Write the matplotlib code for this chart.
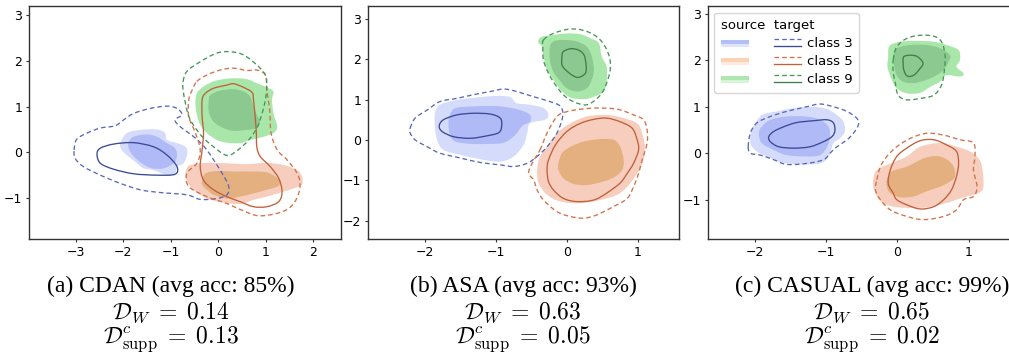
import numpy as np
import matplotlib
matplotlib.use("Agg")
import matplotlib.pyplot as plt
from matplotlib.path import Path
from matplotlib.patches import PathPatch, Rectangle
from matplotlib.lines import Line2D
from matplotlib.legend_handler import HandlerBase

# ---------------------------------------------------------------- data
# contour outlines (x, y), in data units
# ---- (a) CDAN
CDAN_SRC3_OUT = [(-2.06, 0.20), (-1.92, 0.42), (-1.64, 0.49), (-1.29, 0.50), (-1.12, 0.42), (-1.08, 0.27),
                 (-0.87, 0.20), (-0.69, 0.12), (-0.65, -0.02), (-0.73, -0.24), (-0.87, -0.31), (-0.91, -0.46),
                 (-1.08, -0.50), (-1.36, -0.39), (-1.57, -0.35), (-1.71, -0.24), (-1.89, -0.09), (-2.03, 0.05)]
CDAN_SRC3_IN = [(-1.89, 0.20), (-1.78, 0.34), (-1.50, 0.39), (-1.29, 0.34), (-1.08, 0.20), (-0.91, 0.09),
                (-0.87, -0.09), (-0.94, -0.24), (-1.15, -0.35), (-1.40, -0.35), (-1.61, -0.24), (-1.78, -0.09),
                (-1.87, 0.05)]
CDAN_TGT3_OUT = [(-3.03, 0.05), (-2.98, 0.28), (-2.76, 0.42), (-2.48, 0.53), (-2.17, 0.58), (-1.99, 0.71),
                 (-1.78, 0.85), (-1.43, 0.96), (-1.08, 1.01), (-0.87, 0.96), (-0.76, 0.82), (-0.91, 0.71),
                 (-0.80, 0.56), (-0.48, 0.31), (-0.24, 0.05), (0.08, -0.46), (0.22, -0.75), (0.18, -0.93),
                 (-0.03, -1.01), (-0.38, -1.03), (-0.66, -0.93), (-1.22, -0.88), (-1.64, -0.82), (-2.06, -0.68),
                 (-2.48, -0.50), (-2.84, -0.31), (-3.01, -0.13)]
CDAN_TGT3_IN = [(-2.55, -0.04), (-2.48, 0.09), (-2.20, 0.18), (-1.78, 0.21), (-1.36, 0.12), (-1.08, -0.06),
                (-0.87, -0.31), (-0.91, -0.48), (-1.29, -0.50), (-1.78, -0.47), (-2.20, -0.37), (-2.48, -0.24)]
CDAN_SRC5_OUT = [(-0.66, -0.35), (-0.59, -0.28), (-0.24, -0.23), (0.18, -0.24), (0.60, -0.26), (1.02, -0.23),
                 (1.38, -0.28), (1.66, -0.39), (1.76, -0.53), (1.76, -0.71), (1.59, -0.79), (1.31, -0.88),
                 (1.02, -0.97), (0.74, -1.04), (0.46, -1.13), (0.11, -1.10), (-0.24, -1.01), (-0.52, -0.82),
                 (-0.66, -0.64), (-0.69, -0.46)]
CDAN_SRC5_IN = [(-0.34, -0.61), (-0.27, -0.46), (-0.03, -0.41), (0.32, -0.42), (0.74, -0.42), (1.02, -0.44),
                (1.20, -0.53), (1.31, -0.64), (1.24, -0.75), (1.02, -0.82), (0.74, -0.90), (0.46, -0.97),
                (0.18, -1.01), (-0.10, -0.93), (-0.24, -0.82), (-0.34, -0.71)]
CDAN_TGT5_OUT = [(-0.45, 1.55), (-0.24, 1.69), (0.04, 1.80), (0.32, 1.84), (0.60, 1.79), (0.81, 1.80),
                 (0.99, 1.69), (1.02, 1.36), (1.08, 0.93), (1.11, 0.42), (1.24, 0.05), (1.45, -0.17),
                 (1.69, -0.53), (1.69, -0.90), (1.45, -1.25), (0.88, -1.39), (0.46, -1.25), (0.18, -1.12),
                 (-0.24, -0.97), (-0.62, -0.75), (-0.66, -0.46), (-0.45, -0.24), (-0.38, 0.05), (-0.48, 0.42),
                 (-0.62, 0.78), (-0.62, 1.15), (-0.55, 1.36)]
CDAN_TGT5_IN = [(-0.34, 1.15), (-0.27, 1.29), (-0.10, 1.40), (0.18, 1.47), (0.32, 1.50), (0.53, 1.42),
                (0.71, 1.31), (0.74, 1.15), (0.78, 0.71), (0.80, 0.42), (0.81, 0.12), (0.88, -0.09),
                (1.09, -0.31), (1.27, -0.57), (1.34, -0.86), (1.27, -1.08), (1.02, -1.19), (0.74, -1.19),
                (0.46, -1.08), (0.18, -0.97), (-0.10, -0.82), (-0.31, -0.61), (-0.38, -0.31), (-0.34, 0.05),
                (-0.31, 0.42), (-0.34, 0.78)]
CDAN_SRC9_OUT = [(-0.48, 1.07), (-0.45, 1.29), (-0.31, 1.44), (-0.10, 1.55), (0.11, 1.60), (0.32, 1.62),
                 (0.60, 1.60), (0.81, 1.51), (1.02, 1.42), (1.16, 1.33), (1.13, 1.15), (1.16, 0.85),
                 (1.24, 0.56), (1.16, 0.42), (0.95, 0.34), (0.67, 0.27), (0.46, 0.20), (0.18, 0.21),
                 (-0.03, 0.27), (-0.24, 0.42), (-0.38, 0.60), (-0.45, 0.82)]
CDAN_SRC9_IN = [(-0.20, 1.15), (-0.17, 1.25), (0.04, 1.35), (0.32, 1.38), (0.53, 1.33), (0.67, 1.22),
                (0.74, 1.00), (0.81, 0.82), (0.88, 0.67), (0.81, 0.53), (0.60, 0.49), (0.32, 0.47),
                (0.11, 0.53), (-0.10, 0.67), (-0.20, 0.89)]
CDAN_TGT9_OUT = [(-0.74, 1.55), (-0.66, 1.77), (-0.38, 1.98), (-0.03, 2.17), (0.25, 2.20), (0.53, 2.13),
                 (0.81, 1.91), (0.99, 1.69), (1.02, 1.44), (0.99, 1.15), (0.92, 0.85), (0.81, 0.53),
                 (0.64, 0.27), (0.46, 0.09), (0.25, -0.06), (0.11, -0.04), (-0.10, 0.12), (-0.31, 0.31),
                 (-0.48, 0.53), (-0.62, 0.78), (-0.69, 1.07), (-0.74, 1.36)]
CDAN_TGT9_IN = []

# ---- (b) ASA
ASA_SRC3_OUT = [(-1.86, 0.66), (-1.79, 0.87), (-1.55, 0.99), (-1.22, 1.06), (-0.99, 1.09), (-0.80, 1.06),
                (-0.71, 0.91), (-0.52, 0.87), (-0.33, 0.79), (-0.26, 0.62), (-0.31, 0.50), (-0.52, 0.41),
                (-0.56, 0.17), (-0.61, -0.12), (-0.75, -0.41), (-0.94, -0.54), (-1.22, -0.48), (-1.50, -0.37),
                (-1.74, -0.25), (-1.83, 0.00), (-1.86, 0.33)]
ASA_SRC3_IN = [(-1.65, 0.62), (-1.57, 0.79), (-1.32, 0.83), (-1.03, 0.84), (-0.85, 0.81), (-0.66, 0.74),
               (-0.52, 0.62), (-0.52, 0.45), (-0.63, 0.35), (-0.73, 0.12), (-0.89, -0.07), (-1.13, -0.10),
               (-1.36, -0.10), (-1.57, -0.04), (-1.65, 0.12), (-1.67, 0.41)]
ASA_TGT3_OUT = [(-2.21, 0.29), (-2.14, 0.54), (-1.97, 0.74), (-1.79, 0.95), (-1.55, 1.03), (-1.32, 1.12),
                (-1.08, 1.20), (-0.89, 1.26), (-0.71, 1.20), (-0.47, 1.07), (-0.24, 0.95), (-0.09, 0.83),
                (-0.06, 0.58), (-0.14, 0.17), (-0.28, -0.17), (-0.42, -0.41), (-0.56, -0.58), (-0.75, -0.66),
                (-0.94, -0.62), (-1.22, -0.56), (-1.50, -0.45), (-1.79, -0.33), (-1.97, -0.17), (-2.14, 0.00),
                (-2.21, 0.17)]
ASA_TGT3_IN = [(-1.80, 0.35), (-1.74, 0.50), (-1.55, 0.62), (-1.32, 0.66), (-1.08, 0.64), (-0.94, 0.54),
               (-0.92, 0.35), (-0.96, 0.18), (-1.13, 0.10), (-1.36, 0.04), (-1.60, 0.08), (-1.76, 0.21)]
ASA_SRC5_OUT = [(-0.42, -0.74), (-0.38, -0.41), (-0.28, -0.17), (-0.14, 0.17), (0.05, 0.41), (0.28, 0.58),
                (0.56, 0.62), (0.80, 0.54), (0.99, 0.41), (1.06, 0.17), (1.10, -0.17), (1.08, -0.50),
                (0.99, -0.83), (0.85, -1.16), (0.71, -1.36), (0.47, -1.49), (0.19, -1.57), (-0.09, -1.53),
                (-0.28, -1.36), (-0.40, -1.07)]
ASA_SRC5_IN = [(-0.12, -0.58), (-0.07, -0.33), (0.05, -0.17), (0.24, -0.04), (0.47, 0.02), (0.66, 0.00),
               (0.75, -0.17), (0.80, -0.50), (0.78, -0.74), (0.68, -0.91), (0.52, -1.03), (0.28, -1.12),
               (0.09, -1.09), (-0.05, -0.95), (-0.12, -0.74)]
ASA_TGT5_OUT = [(-0.38, -0.25), (-0.28, 0.17), (-0.14, 0.58), (0.00, 0.70), (0.19, 0.76), (0.42, 0.79),
                (0.71, 0.76), (0.94, 0.62), (1.08, 0.50), (1.13, 0.25), (1.13, -0.08), (1.06, -0.50),
                (1.01, -0.83), (0.94, -1.16), (0.85, -1.45), (0.66, -1.65), (0.42, -1.86), (0.24, -1.94),
                (0.05, -1.90), (-0.14, -1.78), (-0.33, -1.49), (-0.42, -1.24), (-0.47, -0.99), (-0.54, -0.83),
                (-0.49, -0.58)]
ASA_TGT5_IN = [(-0.28, -0.74), (-0.26, -0.50), (-0.16, -0.12), (0.00, 0.21), (0.19, 0.41), (0.38, 0.51),
               (0.56, 0.54), (0.75, 0.45), (0.92, 0.29), (0.99, 0.00), (1.01, -0.25), (0.94, -0.58),
               (0.85, -0.83), (0.75, -1.07), (0.56, -1.32), (0.38, -1.49), (0.14, -1.53), (-0.05, -1.45),
               (-0.19, -1.24), (-0.26, -1.03)]
ASA_SRC9_OUT = [(-0.40, 2.48), (-0.35, 2.56), (-0.19, 2.60), (0.00, 2.64), (0.19, 2.62), (0.33, 2.52),
                (0.45, 2.40), (0.49, 2.07), (0.56, 1.82), (0.56, 1.45), (0.52, 1.20), (0.38, 1.07),
                (0.24, 1.01), (0.05, 1.05), (-0.09, 1.24), (-0.19, 1.49), (-0.28, 1.74), (-0.33, 2.07),
                (-0.35, 2.31), (-0.40, 2.40)]
ASA_SRC9_IN = [(-0.24, 2.31), (-0.19, 2.44), (-0.05, 2.48), (0.14, 2.44), (0.28, 2.31), (0.35, 2.07),
               (0.38, 1.74), (0.35, 1.49), (0.28, 1.28), (0.14, 1.20), (0.00, 1.28), (-0.09, 1.45),
               (-0.19, 1.69), (-0.24, 1.98)]
ASA_TGT9_OUT = [(-0.33, 2.48), (-0.19, 2.64), (0.05, 2.75), (0.28, 2.69), (0.47, 2.48), (0.59, 2.11),
                (0.61, 1.74), (0.54, 1.32), (0.45, 1.07), (0.28, 0.87), (0.09, 0.95), (-0.05, 1.12),
                (-0.16, 1.36), (-0.26, 1.65), (-0.33, 1.98), (-0.34, 2.31)]
ASA_TGT9_IN = [(-0.07, 2.07), (-0.05, 2.19), (0.05, 2.26), (0.16, 2.23), (0.24, 2.11), (0.27, 1.86),
               (0.26, 1.65), (0.16, 1.55), (0.07, 1.61), (-0.02, 1.74), (-0.07, 1.86)]

# ---- (c) CASUAL
CAS_SRC3_OUT = [(-2.07, 0.36), (-2.03, 0.57), (-1.91, 0.82), (-1.70, 0.90), (-1.46, 0.97), (-1.18, 1.00),
                (-0.99, 0.95), (-0.85, 0.82), (-0.76, 0.68), (-0.74, 0.47), (-0.81, 0.32), (-0.90, 0.22),
                (-0.97, -0.07), (-1.09, -0.22), (-1.37, -0.24), (-1.65, -0.19), (-1.84, -0.07), (-1.98, 0.04),
                (-2.06, 0.18)]
CAS_SRC3_IN = [(-1.95, 0.43), (-1.91, 0.57), (-1.79, 0.72), (-1.56, 0.79), (-1.28, 0.79), (-1.09, 0.72),
               (-0.97, 0.57), (-0.95, 0.36), (-0.99, 0.14), (-1.09, -0.04), (-1.28, -0.07), (-1.56, -0.04),
               (-1.74, 0.07), (-1.91, 0.22)]
CAS_TGT3_OUT = [(-2.10, 0.14), (-2.07, 0.43), (-1.98, 0.65), (-1.79, 0.79), (-1.56, 0.90), (-1.28, 1.00),
                (-1.09, 1.06), (-0.90, 1.00), (-0.71, 0.90), (-0.57, 0.75), (-0.55, 0.61), (-0.62, 0.43),
                (-0.71, 0.29), (-0.85, 0.14), (-0.95, 0.00), (-1.04, -0.14), (-1.28, -0.22), (-1.56, -0.24),
                (-1.74, -0.14), (-1.93, -0.04), (-2.07, 0.00)]
CAS_TGT3_IN = [(-1.81, 0.36), (-1.74, 0.47), (-1.60, 0.57), (-1.42, 0.66), (-1.18, 0.70), (-0.99, 0.72),
               (-0.90, 0.65), (-0.88, 0.49), (-0.92, 0.36), (-1.04, 0.25), (-1.23, 0.14), (-1.46, 0.11),
               (-1.67, 0.14), (-1.79, 0.25)]
CAS_SRC5_OUT = [(-0.34, -0.57), (-0.29, -0.36), (-0.10, -0.22), (0.13, -0.07), (0.32, 0.14), (0.60, 0.22),
                (0.83, 0.14), (1.02, 0.04), (1.14, -0.11), (1.19, -0.29), (1.21, -0.72), (1.14, -0.86),
                (0.98, -0.93), (0.83, -1.00), (0.60, -1.11), (0.32, -1.18), (-0.01, -1.16), (-0.20, -1.08),
                (-0.29, -0.93), (-0.34, -0.72)]
CAS_SRC5_IN = [(-0.15, -0.57), (-0.08, -0.39), (0.13, -0.29), (0.37, -0.11), (0.55, -0.06), (0.69, -0.13),
               (0.79, -0.29), (0.81, -0.50), (0.74, -0.61), (0.60, -0.72), (0.41, -0.82), (0.23, -0.93),
               (0.04, -0.95), (-0.10, -0.86), (-0.15, -0.72)]
CAS_TGT5_OUT = [(-0.29, -0.57), (-0.24, -0.29), (-0.15, -0.07), (-0.01, 0.14), (0.18, 0.32), (0.41, 0.43),
                (0.65, 0.39), (0.88, 0.29), (1.07, 0.22), (1.09, -0.07), (1.07, -0.36), (1.12, -0.72),
                (1.07, -0.93), (0.93, -1.00), (0.83, -1.22), (0.65, -1.36), (0.37, -1.43), (0.13, -1.36),
                (-0.10, -1.22), (-0.24, -1.00), (-0.31, -0.79)]
CAS_TGT5_IN = [(-0.13, -0.65), (-0.10, -0.36), (-0.01, -0.07), (0.13, 0.11), (0.32, 0.27), (0.51, 0.29),
               (0.69, 0.18), (0.83, 0.04), (0.86, -0.22), (0.83, -0.50), (0.76, -0.79), (0.65, -1.00),
               (0.51, -1.15), (0.32, -1.20), (0.13, -1.11), (-0.01, -1.00), (-0.06, -0.86)]
CAS_SRC9_OUT = [(-0.13, 2.22), (-0.10, 2.33), (0.04, 2.40), (0.27, 2.42), (0.51, 2.40), (0.69, 2.33),
                (0.86, 2.22), (0.88, 2.01), (0.83, 1.86), (0.93, 1.72), (0.88, 1.65), (0.69, 1.68),
                (0.60, 1.54), (0.46, 1.43), (0.32, 1.30), (0.13, 1.29), (-0.01, 1.40), (-0.08, 1.58),
                (-0.14, 1.86), (-0.13, 2.08)]
CAS_SRC9_IN = [(-0.06, 2.11), (-0.01, 2.26), (0.18, 2.33), (0.41, 2.33), (0.60, 2.26), (0.74, 2.11),
               (0.72, 1.97), (0.65, 1.79), (0.55, 1.68), (0.41, 1.58), (0.23, 1.51), (0.08, 1.54),
               (-0.01, 1.68), (-0.05, 1.90)]
CAS_TGT9_OUT = [(-0.06, 2.01), (-0.01, 2.29), (0.13, 2.47), (0.32, 2.54), (0.51, 2.52), (0.62, 2.40),
                (0.67, 2.11), (0.66, 1.79), (0.62, 1.47), (0.51, 1.25), (0.32, 1.18), (0.13, 1.15),
                (0.01, 1.25), (-0.03, 1.51), (-0.06, 1.76)]
CAS_TGT9_IN = [(0.08, 1.97), (0.09, 2.08), (0.18, 2.11), (0.28, 2.08), (0.36, 1.94), (0.31, 1.81),
               (0.23, 1.68), (0.14, 1.66), (0.09, 1.79)]

CLASSES = ["class 3", "class 5", "class 9"]
PANEL_TITLES = ["(a) CDAN (avg acc: 85%)", "(b) ASA (avg acc: 93%)", "(c) CASUAL (avg acc: 99%)"]
D_W = ["0.14", "0.63", "0.65"]
D_SUPP = ["0.13", "0.05", "0.02"]
XLIMS = [(-3.98, 2.58), (-2.80, 1.58), (-2.67, 1.72)]
YLIMS = [(-1.89, 3.20), (-2.45, 3.32), (-1.84, 3.17)]
XTICKS = [[-3, -2, -1, 0, 1, 2], [-2, -1, 0, 1], [-2, -1, 0, 1]]
YTICKS = [[-1, 0, 1, 2, 3], [-2, -1, 0, 1, 2, 3], [-1, 0, 1, 2, 3]]

# ---------------------------------------------------------------- styles
FILL_OUT = {"class 3": "#d5dbfa", "class 5": "#f7cebd", "class 9": "#a9e6a9"}
FILL_IN = {"class 3": "#b0baf6", "class 5": "#e4b080", "class 9": "#8bc991"}
DASH_C = {"class 3": "#5868bc", "class 5": "#d0714a", "class 9": "#469656"}
SOLID_C = {"class 3": "#3a4a98", "class 5": "#c0603a", "class 9": "#3b8048"}
LEG_TOP = {"class 3": "#b3bff7", "class 5": "#fdd2b4", "class 9": "#ade6ae"}
LEG_BOT = {"class 3": "#dfe4fc", "class 5": "#feeadf", "class 9": "#d8f4d8"}
DASHES = (0, (3.5, 2.3))

plt.rcParams["mathtext.fontset"] = "cm"


def smooth_path(pts):
    """Closed Catmull-Rom spline through the outline vertices, as cubic Bezier segments."""
    p = np.asarray(pts, float)
    n = len(p)
    verts = [p[0]]
    codes = [Path.MOVETO]
    for i in range(n):
        p0, p1, p2, p3 = p[i - 1], p[i], p[(i + 1) % n], p[(i + 2) % n]
        verts += [p1 + (p2 - p0) / 6.0, p2 - (p3 - p1) / 6.0, p2]
        codes += [Path.CURVE4] * 3
    return Path(verts, codes)


panels = [
    [(CDAN_SRC3_OUT, CDAN_SRC3_IN, CDAN_TGT3_OUT, CDAN_TGT3_IN),
     (CDAN_SRC5_OUT, CDAN_SRC5_IN, CDAN_TGT5_OUT, CDAN_TGT5_IN),
     (CDAN_SRC9_OUT, CDAN_SRC9_IN, CDAN_TGT9_OUT, CDAN_TGT9_IN)],
    [(ASA_SRC3_OUT, ASA_SRC3_IN, ASA_TGT3_OUT, ASA_TGT3_IN),
     (ASA_SRC5_OUT, ASA_SRC5_IN, ASA_TGT5_OUT, ASA_TGT5_IN),
     (ASA_SRC9_OUT, ASA_SRC9_IN, ASA_TGT9_OUT, ASA_TGT9_IN)],
    [(CAS_SRC3_OUT, CAS_SRC3_IN, CAS_TGT3_OUT, CAS_TGT3_IN),
     (CAS_SRC5_OUT, CAS_SRC5_IN, CAS_TGT5_OUT, CAS_TGT5_IN),
     (CAS_SRC9_OUT, CAS_SRC9_IN, CAS_TGT9_OUT, CAS_TGT9_IN)],
]

W, H = 1009, 356
fig = plt.figure(figsize=(W / 100, H / 100), dpi=100)
ax_boxes = [(29, 312), (368.3, 310.7), (707.7, 312)]
ax_top, ax_bot = 6, 238.7

axes = []
for k, (x0, w) in enumerate(ax_boxes):
    ax = fig.add_axes([x0 / W, 1 - ax_bot / H, w / W, (ax_bot - ax_top) / H])
    axes.append(ax)
    for ci, cls in enumerate(CLASSES):
        s_out, s_in, t_out, t_in = panels[k][ci]
        ax.add_patch(PathPatch(smooth_path(s_out), facecolor=FILL_OUT[cls], edgecolor="none", zorder=1))
        ax.add_patch(PathPatch(smooth_path(s_in), facecolor=FILL_IN[cls], edgecolor="none", zorder=1.5))
    for ci, cls in enumerate(CLASSES):
        s_out, s_in, t_out, t_in = panels[k][ci]
        if t_out:
            ax.add_patch(PathPatch(smooth_path(t_out), fill=False, edgecolor=DASH_C[cls],
                                   lw=0.95, linestyle=DASHES, zorder=3))
        if t_in:
            ax.add_patch(PathPatch(smooth_path(t_in), fill=False, edgecolor=SOLID_C[cls],
                                   lw=0.95, zorder=3))
    ax.set_xlim(*XLIMS[k])
    ax.set_ylim(*YLIMS[k])
    ax.set_xticks(XTICKS[k])
    ax.set_yticks(YTICKS[k])
    ax.tick_params(labelsize=9, length=2.5, width=0.8, pad=2.5, color="#333333")
    for sp in ax.spines.values():
        sp.set_color("#333333")
        sp.set_linewidth(1.0)


class SrcKey:
    def __init__(self, top, bot):
        self.top, self.bot = top, bot


class TgtKey:
    def __init__(self, dash, solid):
        self.dash, self.solid = dash, solid


class SrcHandler(HandlerBase):
    def create_artists(self, legend, orig, xd, yd, w, h, fs, trans):
        r1 = Rectangle((-xd, -yd + 0.05 * h), w, 0.75 * h, facecolor=orig.bot,
                       edgecolor="none", transform=trans)
        r2 = Rectangle((-xd, -yd + 0.32 * h), w, 0.48 * h, facecolor=orig.top,
                       edgecolor="none", transform=trans)
        return [r1, r2]


class TgtHandler(HandlerBase):
    def create_artists(self, legend, orig, xd, yd, w, h, fs, trans):
        y1 = -yd + 0.85 * h
        y2 = -yd + 0.1 * h
        l1 = Line2D([-xd, -xd + w], [y1, y1], color=orig.dash, lw=0.95, linestyle=DASHES, transform=trans)
        l2 = Line2D([-xd, -xd + w], [y2, y2], color=orig.solid, lw=0.95, transform=trans)
        return [l1, l2]


src_keys = [SrcKey(LEG_TOP[c], LEG_BOT[c]) for c in CLASSES]
tgt_keys = [TgtKey(DASH_C[c], SOLID_C[c]) for c in CLASSES]
leg = axes[2].legend(src_keys + tgt_keys, ["", "", ""] + CLASSES, ncol=2,
                     title="source  target", alignment="left", loc="upper left",
                     fontsize=9.5, title_fontsize=9.5, handlelength=2.1, handletextpad=0.4,
                     columnspacing=1.5, labelspacing=0.38, borderpad=0.5, borderaxespad=0.5,
                     handler_map={SrcKey: SrcHandler(), TgtKey: TgtHandler()})

cap_x = [171, 523, 872]
for k in range(3):
    fig.text(cap_x[k] / W, 1 - 292 / H, PANEL_TITLES[k], ha="center", va="baseline",
             fontsize=17, family="Liberation Serif")
    fig.text(cap_x[k] / W, 1 - 319 / H, r"$\mathcal{D}_W\;=\;" + D_W[k] + "$", ha="center",
             va="baseline", fontsize=17)
    fig.text(cap_x[k] / W, 1 - 343 / H, r"$\mathcal{D}^c_{\mathrm{supp}}\;=\;" + D_SUPP[k] + "$",
             ha="center", va="baseline", fontsize=17)

fig.savefig("out.png", dpi=100)
